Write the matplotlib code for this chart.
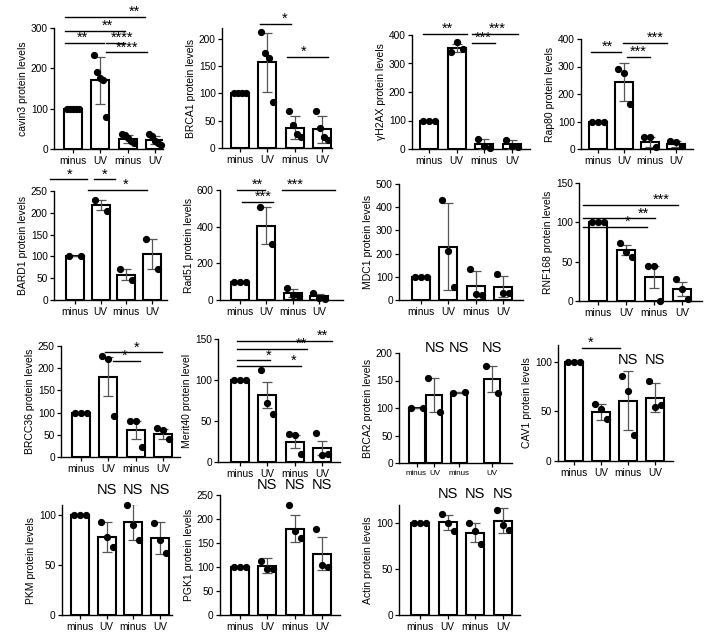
import matplotlib
matplotlib.use('Agg')
import matplotlib.pyplot as plt
import numpy as np

plt.rcParams['font.family'] = ['Liberation Sans', 'DejaVu Sans']

W, H = 709, 639
fig = plt.figure(figsize=(W / 100, H / 100), dpi=100)

groups = ['minus', 'UV', 'minus', 'UV']

# ---------------- data ----------------
cavin3_mean = [100, 170, 25, 22]
cavin3_err = [0, 58, 9, 10]
cavin3_pts = [[100] * 5, [233, 190, 175, 170, 79], [36, 35, 28, 20, 14], [38, 33, 20, 15, 10]]
cavin3_sig = [(-0.29, 2.64, 327, 2.23, '**'), (-0.29, 1.9, 293, 1.25, '**'),
              (-0.29, 1.13, 263, 0.33, '**'), (1.21, 1.9, 263, 1.8, '****'),
              (1.21, 2.71, 240, 1.98, '****')]

brca1_mean = [100, 157, 37, 34]
brca1_err = [0, 54, 21, 24]
brca1_pts = [[100] * 4, [212, 175, 165, 85], [67, 43, 26, 21], [68, 37, 20, 14]]
brca1_sig = [(0.73, 1.87, 227, 1.65, '*'), (1.72, 3.22, 167, 2.34, '*')]

h2ax_mean = [100, 355, 18, 17]
h2ax_err = [0, 13, 17, 16]
h2ax_pts = [[100] * 3, [342, 377, 350], [35, 12, 5], [33, 10, 6]]
h2ax_sig = [(-0.22, 1.38, 403, 0.65, '**'), (1.56, 3.22, 403, 2.45, '***'),
            (1.56, 2.39, 372, 1.95, '***')]

rap80_mean = [100, 243, 27, 18]
rap80_err = [0, 70, 18, 12]
rap80_pts = [[100] * 3, [292, 278, 164], [42, 43, 8], [30, 25, 10]]
rap80_sig = [(-0.27, 0.88, 353, 0.35, '**'), (0.96, 2.65, 385, 2.19, '***'),
             (1.12, 2.0, 335, 1.54, '***')]

bard1_mean = [100, 218, 58, 105]
bard1_err = [0, 12, 12, 35]
bard1_pts = [[100, 100], [230, 205], [70, 47], [140, 70]]
bard1_sig = [(-0.97, 0.47, 277, -0.19, '*'), (0.74, 1.56, 277, 1.17, '*'),
             (0.51, 2.8, 252, 1.98, '*')]

rad51_mean = [100, 405, 38, 20]
rad51_err = [0, 100, 22, 15]
rad51_pts = [[100] * 3, [505, 305], [65, 30, 20], [40, 10, 8]]
rad51_sig = [(-0.11, 0.95, 600, 0.65, '**'), (0.08, 1.25, 535, 0.87, '***'),
             (1.6, 3.6, 600, 2.09, '***')]

mdc1_mean = [100, 230, 60, 57]
mdc1_err = [0, 188, 67, 46]
mdc1_pts = [[100] * 3, [430, 210, 55], [135, 28, 20], [110, 32, 30]]

rnf168_mean = [100, 65, 30, 15]
rnf168_err = [0, 6, 14, 9]
rnf168_pts = [[100] * 3, [74, 62, 56], [45, 45, 0], [28, 15, 2]]
rnf168_sig = [(-0.54, 2.86, 122, 2.25, '***'), (-0.54, 2.04, 105, 1.61, '**'),
              (-0.54, 1.75, 94, 1.07, '*')]

brcc36_mean = [100, 181, 60, 51]
brcc36_err = [0, 44, 20, 11]
brcc36_pts = [[100] * 3, [228, 220, 93], [80, 80, 22], [65, 60, 40]]
brcc36_sig = [(0.88, 2.97, 236, 2.05, '*'), (1.17, 2.16, 216, 1.61, '*')]

merit40_mean = [100, 82, 25, 17]
merit40_err = [0, 16, 8, 9]
merit40_pts = [[100] * 3, [112, 72, 58], [34, 33, 10], [35, 8, 10]]
merit40_sig = [(-0.11, 3.37, 147.6, 3.0, '**'), (-0.11, 2.45, 138, 2.23, '**'),
               (-0.11, 1.1, 124, 1.03, '*'), (-0.11, 2.23, 117, 1.98, '*')]

brca2_mean = [100, 123, 128, 153]
brca2_err = [0, 31, 1, 24]
brca2_pts = [[100, 100], [155, 93], [128, 129], [177, 128]]

cav1_mean = [100, 49, 61, 64]
cav1_err = [0, 8, 30, 15]
cav1_pts = [[100] * 3, [57, 52, 42], [86, 71, 26], [81, 54, 56]]
cav1_sig = [(0.3, 1.7, 114, 0.63, '*')]

pkm_mean = [100, 78, 93, 77]
pkm_err = [0, 15, 18, 16]
pkm_pts = [[100] * 3, [93, 78, 68], [110, 90, 75], [92, 75, 62]]

pgk1_mean = [100, 103, 180, 128]
pgk1_err = [0, 15, 28, 35]
pgk1_pts = [[100] * 3, [112, 96, 95], [230, 175, 160], [180, 105, 100]]

actin_mean = [100, 101, 90, 103]
actin_err = [0, 8, 10, 14]
actin_pts = [[100] * 3, [110, 100, 92], [100, 92, 78], [115, 98, 93]]


def panel(box, ylim, yticks, means, errs, pts, ylabel, xpos=(0, 1, 2, 3),
          sigs=(), ns=(), ns_y=None, xfs=7.3, bar_px=18):
    sx, ex, ty, zy, c0, c3 = box
    ax = fig.add_axes([sx / W, 1 - zy / H, (ex - sx) / W, (zy - ty) / H])
    xpos = np.asarray(xpos, float)
    scale = (c3 - c0) / (xpos[-1] - xpos[0])
    ax.set_xlim(xpos[0] + (sx - c0) / scale, xpos[0] + (ex - c0) / scale)
    ax.set_ylim(*ylim)
    bw = bar_px / scale
    ax.bar(xpos, means, width=bw, color='white', edgecolor='black', linewidth=1.5, zorder=2)
    ax.errorbar(xpos, means, yerr=errs, fmt='none', ecolor='#555555', elinewidth=0.9,
                capsize=3.5, capthick=0.9, zorder=3)
    for x, p in zip(xpos, pts):
        n = len(p)
        offs = np.linspace(-6, 6, n) / scale if n > 1 else np.zeros(1)
        ax.plot(x + offs, p, 'o', color='black', markersize=4.2, zorder=4, clip_on=False)
    ax.set_xticks(xpos)
    ax.set_xticklabels(groups, fontsize=xfs)
    ax.set_yticks(yticks)
    ax.tick_params(axis='y', labelsize=7.3, length=3, width=0.9, pad=1.5)
    ax.tick_params(axis='x', length=3, width=0.9, pad=2)
    for s in ['top', 'right']:
        ax.spines[s].set_visible(False)
    ax.spines['left'].set_linewidth(1.0)
    ax.spines['bottom'].set_linewidth(1.0)
    ax.set_ylabel(ylabel, fontsize=7.5, labelpad=2)
    for x1, x2, y, tx, lab in sigs:
        ax.plot([x1, x2], [y, y], color='black', lw=1.0, clip_on=False, zorder=5)
        ax.annotate(lab, (tx, y), xytext=(0, -1.5), textcoords='offset points',
                    ha='center', va='bottom', fontsize=10.5, annotation_clip=False)
    for i in ns:
        ax.text(xpos[i], ns_y, 'NS', ha='center', va='center', fontsize=10.5, clip_on=False)
    return ax


panel((54, 163, 28, 149, 73, 155), (0, 300), [0, 100, 200, 300],
      cavin3_mean, cavin3_err, cavin3_pts, 'cavin3 protein levels', sigs=cavin3_sig)
panel((222, 332, 28, 148, 240, 322), (0, 220), [0, 50, 100, 150, 200],
      brca1_mean, brca1_err, brca1_pts, 'BRCA1 protein levels', sigs=brca1_sig)
panel((412, 530, 35, 149, 429, 512), (0, 400), [0, 100, 200, 300, 400],
      h2ax_mean, h2ax_err, h2ax_pts, 'γH2AX protein levels', sigs=h2ax_sig)
panel((581, 693, 39, 149, 598, 676), (0, 400), [0, 100, 200, 300, 400],
      rap80_mean, rap80_err, rap80_pts, 'Rap80 protein levels', sigs=rap80_sig)

panel((54, 167, 191, 300, 75, 152), (0, 250), [0, 50, 100, 150, 200, 250],
      bard1_mean, bard1_err, bard1_pts, 'BARD1 protein levels', sigs=bard1_sig)
panel((220, 343, 190, 300, 240, 319), (0, 600), [0, 200, 400, 600],
      rad51_mean, rad51_err, rad51_pts, 'Rad51 protein levels', sigs=rad51_sig)
panel((399, 523, 184, 300, 421, 503), (0, 500), [0, 100, 200, 300, 400, 500],
      mdc1_mean, mdc1_err, mdc1_pts, 'MDC1 protein levels')
panel((579, 702, 183, 301, 598, 682), (0, 150), [0, 50, 100, 150],
      rnf168_mean, rnf168_err, rnf168_pts, 'RNF168 protein levels', sigs=rnf168_sig)

panel((61, 180, 346, 457, 81, 163), (0, 250), [0, 50, 100, 150, 200, 250],
      brcc36_mean, brcc36_err, brcc36_pts, 'BRCC36 protein levels', sigs=brcc36_sig)
panel((218, 340, 339, 462, 240, 322), (0, 150), [0, 50, 100, 150],
      merit40_mean, merit40_err, merit40_pts, 'Merit40 protein level', sigs=merit40_sig)
panel((399, 512, 353, 463, 416.5, 491.5), (0, 200), [0, 50, 100, 150, 200],
      brca2_mean, brca2_err, brca2_pts, 'BRCA2 protein levels',
      xpos=(0, 1, 2.36, 4.17), ns=(1, 2, 3), ns_y=209, xfs=5.8, bar_px=16)
panel((558, 673, 345, 461, 574, 655), (0, 117), [0, 50, 100],
      cav1_mean, cav1_err, cav1_pts, 'CAV1 protein levels', sigs=cav1_sig,
      ns=(2, 3), ns_y=102)

panel((62, 172, 505, 615, 80, 160), (0, 110), [0, 50, 100],
      pkm_mean, pkm_err, pkm_pts, 'PKM protein levels', ns=(1, 2, 3), ns_y=125)
panel((220, 340, 495, 615, 240, 322), (0, 250), [0, 50, 100, 150, 200, 250],
      pgk1_mean, pgk1_err, pgk1_pts, 'PGK1 protein levels', ns=(1, 2, 3), ns_y=270)
panel((399, 520, 505, 615, 420, 503), (0, 120), [0, 50, 100],
      actin_mean, actin_err, actin_pts, 'Actin protein levels', ns=(1, 2, 3), ns_y=132)

fig.savefig('out.png', dpi=100)
